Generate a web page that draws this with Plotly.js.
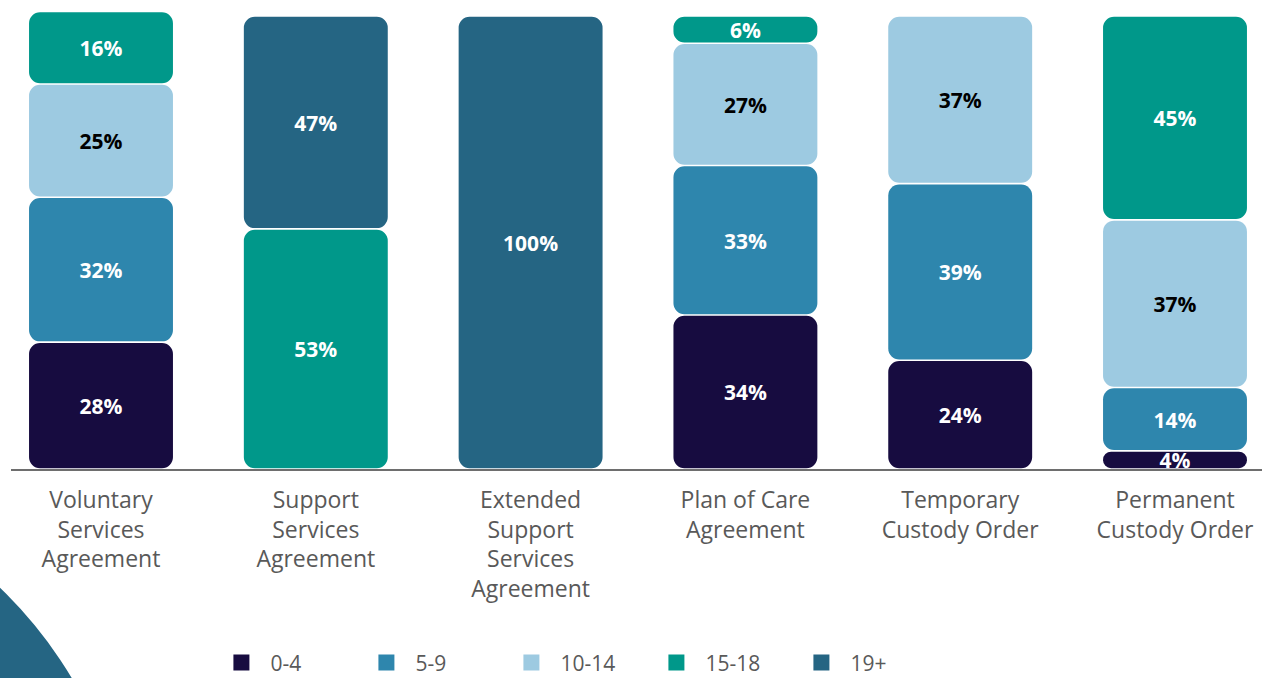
<!DOCTYPE html>
<html>
<head>
<meta charset="utf-8">
<script src="https://cdn.plot.ly/plotly-3.0.1.min.js"></script>
<style>
  html, body { margin: 0; padding: 0; background: #fff; }
  #chart { width: 1262px; height: 678px; }
</style>
</head>
<body>
<div id="chart"></div>
<script>
var categories = [
  'Voluntary<br>Services<br>Agreement',
  'Support<br>Services<br>Agreement',
  'Extended<br>Support<br>Services<br>Agreement',
  'Plan of Care<br>Agreement',
  'Temporary<br>Custody Order',
  'Permanent<br>Custody Order'
];
var ageGroups = ['0-4', '5-9', '10-14', '15-18', '19+'];

var age0to4   = [28, 0,  0,   34, 24, 4];
var age5to9   = [32, 0,  0,   33, 39, 14];
var age10to14 = [25, 0,  0,   27, 37, 37];
var age15to18 = [16, 53, 0,   6,  0,  45];
var age19plus = [0,  47, 100, 0,  0,  0];

var seriesValues = [age0to4, age5to9, age10to14, age15to18, age19plus];
var colors = ['#170c40', '#2e86ad', '#9dcae1', '#00988a', '#256583'];
var labelColors = ['#ffffff', '#ffffff', '#000000', '#ffffff', '#ffffff'];

var xIdx = categories.map(function (c, i) { return i; });
var gap = 0.35;        // white seam between stacked segments
var textNudge = 0.7;   // bold digits sit a touch high when centred
var data = [];
var texts = [];
var running = categories.map(function () { return 0; });

seriesValues.forEach(function (vals, s) {
  var bases = [], heights = [], mids = [], labels = [];
  vals.forEach(function (v, i) {
    if (v > 0) {
      bases.push(running[i] + gap / 2);
      heights.push(v - gap);
      mids.push(running[i] + v / 2 - textNudge);
      labels.push(v + '%');
    } else {
      bases.push(null);
      heights.push(null);
      mids.push(null);
      labels.push('');
    }
    running[i] += v;
  });

  data.push({
    type: 'bar',
    x: xIdx,
    y: heights,
    base: bases,
    width: 0.67,
    marker: { color: colors[s], cornerradius: 11, line: { width: 0 } },
    showlegend: false,
    hoverinfo: 'skip'
  });

  texts.push({
    type: 'scatter',
    mode: 'text',
    x: xIdx,
    y: mids,
    text: labels,
    textposition: 'middle center',
    textfont: { family: 'Open Sans', size: 21, color: labelColors[s], weight: 'bold' },
    showlegend: false,
    hoverinfo: 'skip'
  });

  // legend entry
  data.push({
    type: 'scatter',
    mode: 'markers',
    x: [null],
    y: [null],
    name: ageGroups[s],
    marker: { symbol: 'square', size: 24, color: colors[s] }
  });
});

data = data.concat(texts);

var layout = {
  width: 1262,
  height: 678,
  margin: { l: 11, r: 0, t: 5, b: 209, autoexpand: false },
  paper_bgcolor: '#ffffff',
  plot_bgcolor: 'rgba(0,0,0,0)',
  barmode: 'overlay',
  font: { family: 'Open Sans', color: '#595959' },
  xaxis: {
    range: [-0.419, 5.405],
    tickvals: xIdx,
    ticktext: categories,
    ticks: '',
    showgrid: false,
    zeroline: false,
    showline: true,
    linecolor: '#6e6e6e',
    linewidth: 2,
    tickfont: { family: 'Open Sans', size: 23, color: '#595959' },
    ticklabelstandoff: 9,
    automargin: false,
    fixedrange: true
  },
  yaxis: {
    range: [0, 102.43],
    visible: false,
    showgrid: false,
    zeroline: false,
    fixedrange: true
  },
  legend: {
    orientation: 'h',
    x: 0.161,
    xanchor: 'left',
    y: -0.418,
    yanchor: 'middle',
    itemwidth: 48,
    entrywidth: 82,
    entrywidthmode: 'pixels',
    font: { family: 'Open Sans', size: 21, color: '#595959' }
  },
  shapes: [{
    type: 'circle',
    xref: 'paper',
    yref: 'paper',
    x0: -0.5947,
    x1: 0.0975,
    y0: -1.862,
    y1: 0.0043,
    fillcolor: '#256583',
    line: { width: 0 },
    layer: 'below'
  }]
};

Plotly.newPlot('chart', data, layout, { displayModeBar: false, staticPlot: true });
</script>
</body>
</html>
